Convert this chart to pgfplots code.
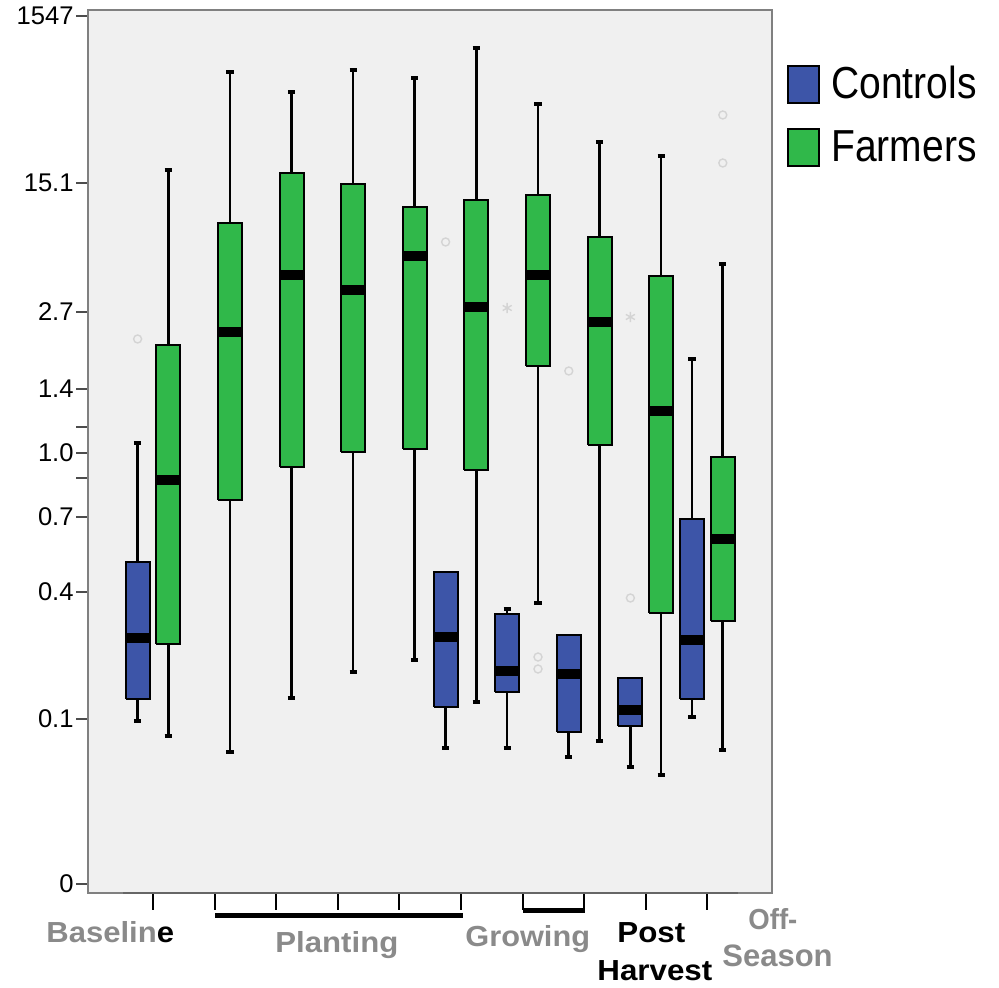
\documentclass[border=0pt]{standalone}
\usepackage{pgfplots}
\pgfplotsset{compat=1.18}
\usepackage{graphicx}
\usepackage{fontspec}
\setmainfont{Liberation Sans}
\definecolor{ctrl}{RGB}{61,85,168}
\definecolor{farm}{RGB}{48,184,74}
\definecolor{bg}{RGB}{240,240,240}
\definecolor{lbl}{RGB}{138,138,138}
\definecolor{frm}{RGB}{128,128,128}
\definecolor{outl}{RGB}{212,212,212}
\newcommand{\catfont}{\fontsize{14.5}{16}\selectfont\bfseries}
% box: #1 = fill colour; coordinates = corners (x-0.195 / x+0.195, lower quartile / upper quartile)
\pgfplotsset{
  boxst/.style={fill=#1, draw=black, line width=1pt, line join=miter},
  medst/.style={black, line width=4.8pt, unbounded coords=jump},
  whst/.style={black, line width=1.3pt, unbounded coords=jump},
}
\begin{document}
\begin{tikzpicture}
\path[use as bounding box] (0pt,0pt) rectangle (499.5pt,494pt);
\begin{axis}[
  at={(44pt,47.5pt)}, anchor=south west,
  scale only axis, width=342pt, height=441.5pt,
  xmin=-0.0552, xmax=11.049, ymin=-9, ymax=874,
  axis background/.style={fill=bg},
  axis line style={frm, line width=1pt},
  tick align=outside, tick pos=left,
  major tick length=6pt,
  xtick={1,...,10}, xticklabel=\empty,
  xtick style={black, line width=1pt, /pgfplots/major tick length=8.5pt},
  ytick={0,165,292,367,406,431,457,495,572,701,868},
  yticklabels={0,0.1,0.4,0.7,,1.0,,1.4,2.7,15.1,1547},
  ytick style={black!70, line width=1pt},
  yticklabel style={font=\fontsize{12.8}{14}\selectfont, inner sep=1pt},
  clip=false,
  legend image code/.code={\draw[#1] (0pt,-9.25pt) rectangle (15.5pt,9.25pt);},
  legend style={at={(1.0219,0.9411)}, anchor=north west, draw=none, fill=none,
    inner sep=0pt, row sep=10.5pt, font=\fontsize{19.5}{22}\selectfont,
    /tikz/every odd column/.append style={column sep=3.5pt}},
  legend cell align=left,
]
\addlegendimage{fill=ctrl, draw=black, line width=1pt}
\addlegendentry{\scalebox{1}[1.15]{Controls}}
\addlegendimage{fill=farm, draw=black, line width=1pt}
\addlegendentry{\scalebox{1}[1.15]{Farmers}}

% ---- whiskers (vertical lines: lower whisker -> lower quartile, upper quartile -> upper whisker) and caps
% Controls at category-0.25: (pos, lw, lq, med, uq, uw)
% 0.75: 163 185 246 322 441 | 5.75: 136 177 247 312 312 | 6.75: 136 192 213 270 275
% 7.75: 127 152 210 249 249 | 8.75: 117 158 174 206 206 | 9.75: 167 185 244 365 525
% Farmers at category+0.25
% 1.25: 148 240 404 539 714 | 2.25: 132 384 552 661 812 | 3.25: 186 417 609 711 792
% 4.25: 212 432 594 700 814 | 5.25: 224 435 628 677 806 | 6.25: 182 414 577 684 836
% 7.25: 281 518 609 689 780 | 8.25: 143 439 562 647 742 | 9.25: 109 271 473 608 728
% 10.25: 134 263 345 427 620
\addplot[whst] coordinates {
 (0.75,163) (0.75,185) (nan,nan) (0.75,322) (0.75,441) (nan,nan)
 (5.75,136) (5.75,177) (nan,nan)
 (6.75,136) (6.75,192) (nan,nan) (6.75,270) (6.75,275) (nan,nan)
 (7.75,127) (7.75,152) (nan,nan)
 (8.75,117) (8.75,158) (nan,nan)
 (9.75,167) (9.75,185) (nan,nan) (9.75,365) (9.75,525) (nan,nan)
 (1.25,148) (1.25,240) (nan,nan) (1.25,539) (1.25,714) (nan,nan)
 (2.25,132) (2.25,384) (nan,nan) (2.25,661) (2.25,812) (nan,nan)
 (3.25,186) (3.25,417) (nan,nan) (3.25,711) (3.25,792) (nan,nan)
 (4.25,212) (4.25,432) (nan,nan) (4.25,700) (4.25,814) (nan,nan)
 (5.25,224) (5.25,435) (nan,nan) (5.25,677) (5.25,806) (nan,nan)
 (6.25,182) (6.25,414) (nan,nan) (6.25,684) (6.25,836) (nan,nan)
 (7.25,281) (7.25,518) (nan,nan) (7.25,689) (7.25,780) (nan,nan)
 (8.25,143) (8.25,439) (nan,nan) (8.25,647) (8.25,742) (nan,nan)
 (9.25,109) (9.25,271) (nan,nan) (9.25,608) (9.25,728) (nan,nan)
 (10.25,134) (10.25,263) (nan,nan) (10.25,427) (10.25,620)
};
% whisker caps
\addplot[black, line width=2pt, unbounded coords=jump] coordinates {
 (0.69,163) (0.81,163) (nan,nan) (0.69,441) (0.81,441) (nan,nan)
 (5.69,136) (5.81,136) (nan,nan) (6.69,136) (6.81,136) (nan,nan) (6.69,275) (6.81,275) (nan,nan)
 (7.69,127) (7.81,127) (nan,nan) (8.69,117) (8.81,117) (nan,nan)
 (9.69,167) (9.81,167) (nan,nan) (9.69,525) (9.81,525) (nan,nan)
 (1.19,148) (1.31,148) (nan,nan) (1.19,714) (1.31,714) (nan,nan)
 (2.19,132) (2.31,132) (nan,nan) (2.19,812) (2.31,812) (nan,nan)
 (3.19,186) (3.31,186) (nan,nan) (3.19,792) (3.31,792) (nan,nan)
 (4.19,212) (4.31,212) (nan,nan) (4.19,814) (4.31,814) (nan,nan)
 (5.19,224) (5.31,224) (nan,nan) (5.19,806) (5.31,806) (nan,nan)
 (6.19,182) (6.31,182) (nan,nan) (6.19,836) (6.31,836) (nan,nan)
 (7.19,281) (7.31,281) (nan,nan) (7.19,780) (7.31,780) (nan,nan)
 (8.19,143) (8.31,143) (nan,nan) (8.19,742) (8.31,742) (nan,nan)
 (9.19,109) (9.31,109) (nan,nan) (9.19,728) (9.31,728) (nan,nan)
 (10.19,134) (10.31,134) (nan,nan) (10.19,620) (10.31,620)
};

% ---- boxes (lower quartile to upper quartile)
\addplot[boxst=ctrl] coordinates {(0.555,185) (0.945,185) (0.945,322) (0.555,322) (0.555,185)};
\addplot[boxst=ctrl] coordinates {(5.555,177) (5.945,177) (5.945,312) (5.555,312) (5.555,177)};
\addplot[boxst=ctrl] coordinates {(6.555,192) (6.945,192) (6.945,270) (6.555,270) (6.555,192)};
\addplot[boxst=ctrl] coordinates {(7.555,152) (7.945,152) (7.945,249) (7.555,249) (7.555,152)};
\addplot[boxst=ctrl] coordinates {(8.555,158) (8.945,158) (8.945,206) (8.555,206) (8.555,158)};
\addplot[boxst=ctrl] coordinates {(9.555,185) (9.945,185) (9.945,365) (9.555,365) (9.555,185)};
\addplot[boxst=farm] coordinates {(1.055,240) (1.445,240) (1.445,539) (1.055,539) (1.055,240)};
\addplot[boxst=farm] coordinates {(2.055,384) (2.445,384) (2.445,661) (2.055,661) (2.055,384)};
\addplot[boxst=farm] coordinates {(3.055,417) (3.445,417) (3.445,711) (3.055,711) (3.055,417)};
\addplot[boxst=farm] coordinates {(4.055,432) (4.445,432) (4.445,700) (4.055,700) (4.055,432)};
\addplot[boxst=farm] coordinates {(5.055,435) (5.445,435) (5.445,677) (5.055,677) (5.055,435)};
\addplot[boxst=farm] coordinates {(6.055,414) (6.445,414) (6.445,684) (6.055,684) (6.055,414)};
\addplot[boxst=farm] coordinates {(7.055,518) (7.445,518) (7.445,689) (7.055,689) (7.055,518)};
\addplot[boxst=farm] coordinates {(8.055,439) (8.445,439) (8.445,647) (8.055,647) (8.055,439)};
\addplot[boxst=farm] coordinates {(9.055,271) (9.445,271) (9.445,608) (9.055,608) (9.055,271)};
\addplot[boxst=farm] coordinates {(10.055,263) (10.445,263) (10.445,427) (10.055,427) (10.055,263)};

% ---- medians
\addplot[medst] coordinates {
 (0.565,246) (0.935,246) (nan,nan) (5.565,247) (5.935,247) (nan,nan)
 (6.565,213) (6.935,213) (nan,nan) (7.565,210) (7.935,210) (nan,nan)
 (8.565,174) (8.935,174) (nan,nan) (9.565,244) (9.935,244) (nan,nan)
 (1.065,404) (1.435,404) (nan,nan) (2.065,552) (2.435,552) (nan,nan)
 (3.065,609) (3.435,609) (nan,nan) (4.065,594) (4.435,594) (nan,nan)
 (5.065,628) (5.435,628) (nan,nan) (6.065,577) (6.435,577) (nan,nan)
 (7.065,609) (7.435,609) (nan,nan) (8.065,562) (8.435,562) (nan,nan)
 (9.065,473) (9.435,473) (nan,nan) (10.065,345) (10.435,345)
};

% ---- outliers (circles) and extremes (stars)
\addplot[only marks, mark=o, mark size=2pt, draw=outl, line width=0.7pt] coordinates {
  (0.75,545) (5.75,642) (7.25,227) (7.25,215) (7.75,513) (8.75,286) (10.25,769) (10.25,721)};
\addplot[only marks, mark=asterisk, mark size=2.6pt, draw=outl, line width=0.7pt] coordinates {
  (6.75,576) (8.75,567)};
\end{axis}
% darker x axis segment
\draw[black!60, line width=1pt] (61.5pt,47.5pt) -- (369pt,47.5pt);
% brackets
\draw[black, line width=2.5pt] (107.5pt,36.25pt) -- (231.5pt,36.25pt);
\draw[black, line width=2.5pt] (261.5pt,38.75pt) -- (292.5pt,38.75pt);
% category labels
\node[anchor=base west, inner sep=0pt, text=lbl, font=\catfont] at (23pt,22.5pt) {\scalebox{1.07}[1]{Baselin\textcolor{black}{e}}};
\node[anchor=base west, inner sep=0pt, text=lbl, font=\catfont] at (137.5pt,17.5pt) {\scalebox{1.075}[1]{Planting}};
\node[anchor=base west, inner sep=0pt, text=lbl, font=\catfont] at (232.5pt,20.5pt) {\scalebox{1.06}[1]{Growing}};
\node[anchor=base west, inner sep=0pt, text=black, font=\catfont] at (308.5pt,22.5pt) {\scalebox{1.08}[1]{Post}};
\node[anchor=base west, inner sep=0pt, text=black, font=\catfont] at (298.5pt,3.5pt) {\scalebox{1.08}[1]{Harvest}};
\node[anchor=base west, inner sep=0pt, text=lbl, font=\catfont] at (374pt,29pt) {\scalebox{0.95}[1]{Off-}};
\node[anchor=base west, inner sep=0pt, text=lbl, font=\fontsize{15.5}{17}\selectfont\bfseries] at (361pt,10.5pt) {Season};
\end{tikzpicture}
\end{document}
